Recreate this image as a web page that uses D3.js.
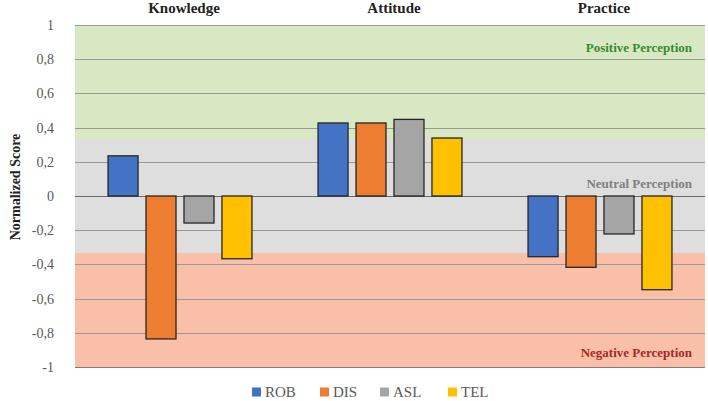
<!DOCTYPE html>
<html><head><meta charset="utf-8">
<script src="https://cdn.jsdelivr.net/npm/d3@7"></script>
<style>body{margin:0;background:#fff}</style>
</head><body>
<svg id="c" width="708" height="401"></svg>
<script>
const categories = ["Knowledge", "Attitude", "Practice"];
const series = ["ROB", "DIS", "ASL", "TEL"];
const colors = ["#4472C4", "#ED7D31", "#A5A5A5", "#FFC000"];
const ROB = [0.235, 0.427, -0.355];
const DIS = [-0.836, 0.427, -0.417];
const ASL = [-0.158, 0.448, -0.222];
const TEL = [-0.367, 0.339, -0.548];
const yTicks = [1, 0.8, 0.6, 0.4, 0.2, 0, -0.2, -0.4, -0.6, -0.8, -1];
const bands = [
  {lo: 1/3, hi: 1, fill: "#D8E8C3", label: "Positive Perception", color: "#3B8B2E", at: 0.87},
  {lo: -1/3, hi: 1/3, fill: "#DEDEDE", label: "Neutral Perception", color: "#7F7F7F", at: 0.075},
  {lo: -1, hi: -1/3, fill: "#F9BFA8", label: "Negative Perception", color: "#A52A2A", at: -0.915}
];
const values = [ROB, DIS, ASL, TEL];
const FF = '"Liberation Serif"';

const svg = d3.select("#c");
const L = 75, R = 705, T = 25, B = 367;
const y = d3.scaleLinear().domain([-1, 1]).range([B, T]);
const x0 = d3.scaleBand().domain(categories).range([L, R]);
const x1 = d3.scaleBand().domain(series).range([0, x0.bandwidth()]).paddingInner(0.21).paddingOuter(0.87);

// bands
svg.selectAll("rect.band").data(bands).join("rect")
  .attr("x", L).attr("width", R - L)
  .attr("y", d => y(d.hi)).attr("height", d => y(d.lo) - y(d.hi))
  .attr("fill", d => d.fill);

// gridlines
svg.selectAll("line.grid").data(yTicks).join("line")
  .attr("x1", L).attr("x2", R)
  .attr("y1", d => Math.round(y(d)) + 0.5).attr("y2", d => Math.round(y(d)) + 0.5)
  .attr("stroke", d => d === 0 ? "#6b6b6b" : (d === -1 ? "#8a7a70" : "#9a9a9a"))
  .attr("stroke-width", 1);

// band labels
svg.selectAll("text.bl").data(bands).join("text")
  .attr("x", 692).attr("y", d => y(d.at)).attr("dy", "0.35em")
  .attr("text-anchor", "end").style("font-family", FF)
  .style("font-weight", "bold").style("font-size", "13px")
  .attr("fill", d => d.color).text(d => d.label);

// y tick labels
svg.selectAll("text.yt").data(yTicks).join("text")
  .attr("x", 54).attr("y", d => y(d)).attr("dy", "0.35em")
  .attr("text-anchor", "end").style("font-family", FF).style("font-size", "14px")
  .attr("fill", "#595959").text(d => String(d).replace(".", ","));

// y title
svg.append("text").attr("transform", "translate(15,187) rotate(-90)")
  .attr("text-anchor", "middle").attr("dy", "0.35em").style("font-family", FF)
  .style("font-weight", "bold").style("font-size", "14px").attr("fill", "#222").text("Normalized Score");

// category labels
svg.selectAll("text.cat").data(categories).join("text")
  .attr("x", d => x0(d) + x0.bandwidth() / 2 + 4).attr("y", 13)
  .attr("text-anchor", "middle").style("font-family", FF)
  .style("font-weight", "bold").style("font-size", "15px").attr("fill", "#222").text(d => d);

// bars
series.forEach((s, si) => {
  svg.selectAll("rect.s" + si).data(categories).join("rect")
    .attr("x", d => x0(d) + x1(s))
    .attr("width", x1.bandwidth())
    .attr("y", (d, i) => y(Math.max(0, values[si][i])))
    .attr("height", (d, i) => Math.abs(y(values[si][i]) - y(0)))
    .attr("fill", colors[si]).attr("stroke", "#262626").attr("stroke-width", 1.3);
});

// legend
const legX = [252, 320, 380, 448];
const lg = svg.selectAll("g.lg").data(series).join("g")
  .attr("transform", (d, i) => `translate(${legX[i]},392)`);
lg.append("rect").attr("x", 0).attr("y", -4.5).attr("width", 9).attr("height", 9)
  .attr("fill", (d, i) => colors[i]);
lg.append("text").attr("x", 13).attr("dy", "0.35em").style("font-family", FF)
  .style("font-size", "15px").attr("fill", "#595959").text(d => d);
</script>
</body></html>
